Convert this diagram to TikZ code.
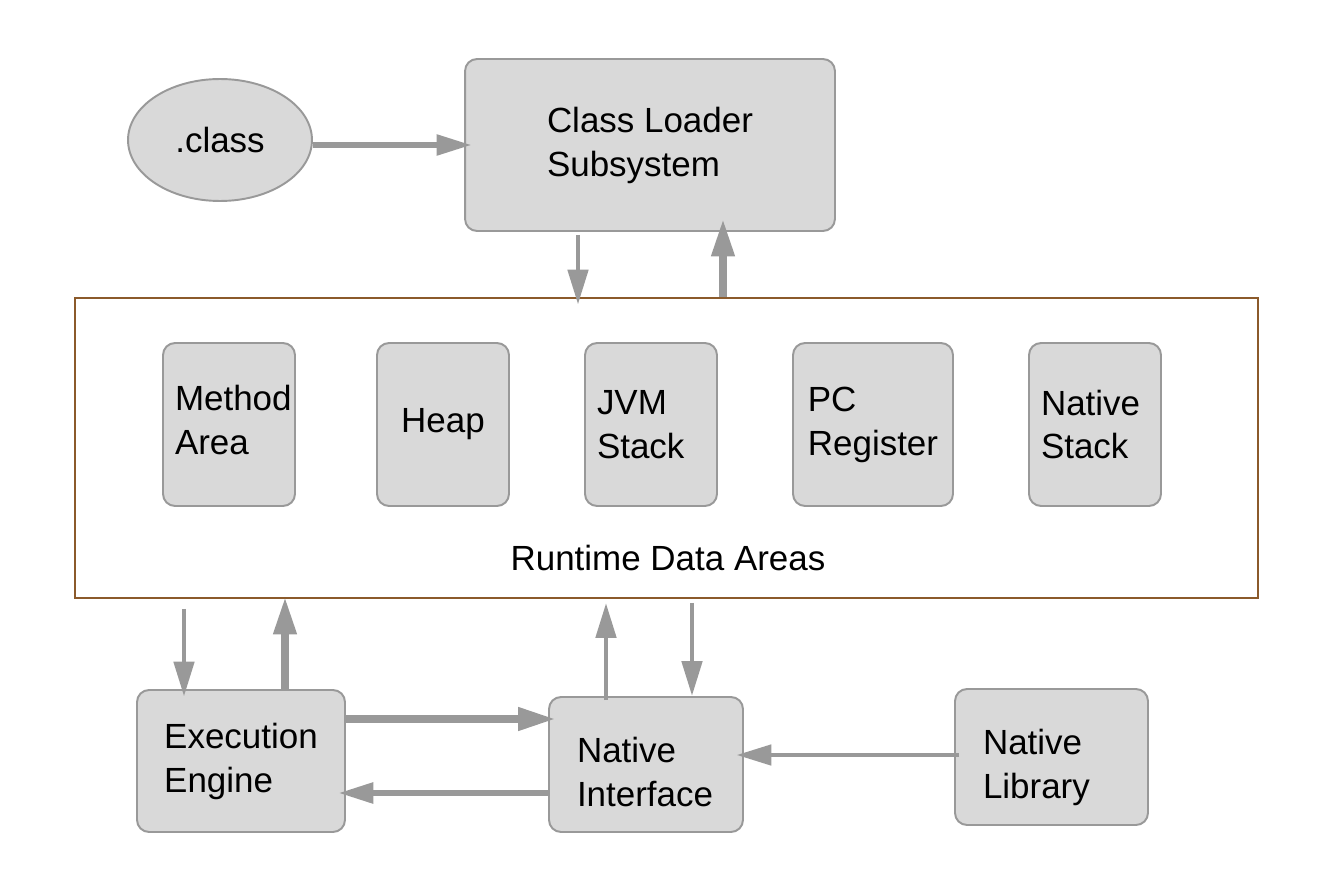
\documentclass[tikz,border=0pt]{standalone}
\usepackage{fontspec}
\setmainfont{Liberation Sans}
\usetikzlibrary{arrows.meta,shapes.geometric,positioning}

\definecolor{boxfill}{HTML}{D9D9D9}
\definecolor{boxline}{HTML}{999999}
\definecolor{arrgray}{HTML}{999999}
\definecolor{framebrown}{RGB}{139,90,43}

\tikzset{
  txt/.style={font=\fontsize{19.9}{25}\selectfont},
  block/.style={txt,draw=boxline,fill=boxfill,line width=1.1pt,rounded corners=0.24cm,align=left,inner sep=0pt},
  area/.style={block,minimum width=2.64cm,minimum height=3.26cm},
  flow/.style={draw=arrgray,line width=2.8pt,-{Triangle[length=0.7cm,width=0.4cm]},shorten >=-0.15cm},
  flowthick/.style={flow,line width=4.2pt,-{Triangle[length=0.75cm,width=0.44cm]}}
}

\begin{document}
\begin{tikzpicture}[x=0.02cm,y=-0.02cm]
	\useasboundingbox (0,0) rectangle (1326,882);
	% top row
	\node[block,ellipse,rounded corners=0pt,minimum width=3.68cm,minimum height=2.44cm] (cls) at (220,140) {.class};
	\node[block,minimum width=7.4cm,minimum height=3.44cm] (cl) at (650,145) {Class Loader\\Subsystem};
	% runtime data areas
	\node[draw=framebrown,line width=1.1pt,minimum width=23.66cm,minimum height=6cm,inner sep=0pt] (rt) at (666.5,448) {};
	\node[area,text width=2.16cm,text height=0.6cm,text depth=1.16cm] (method) at (229,424.5) {Method\\Area};
	\node[area] (heap) at (443,424.5) {Heap};
	\node[area,text width=2.16cm] (jvm) at (651,424.5) {JVM\\Stack};
	\node[area,minimum width=3.2cm] (pc) at (873,424.5) {PC\\Register};
	\node[area,text width=2.16cm] (nstack) at (1095,424.5) {Native\\Stack};
	\node[txt] (rtname) at (668,558) {Runtime Data Areas};
	% bottom row
	\node[block,minimum width=4.16cm,minimum height=2.84cm] (ee) at (241,761) {Execution\\Engine};
	\node[block,minimum width=3.88cm,minimum height=2.7cm,text width=2.76cm,text height=0.6cm,text depth=0.68cm] (ni) at (646,764.5) {Native\\Interface};
	\node[block,minimum width=3.86cm,minimum height=2.72cm,text width=2.74cm,text height=0.6cm,text depth=0.7cm] (nl) at (1051.5,757) {Native\\Library};
	% connectors
	\draw[flow,line width=3.2pt] (cls.east |- cl.west) -- (cl.west);
	\draw[flow,shorten <=0.06cm] (cl.south -| 578,0) -- (rt.north -| 578,0);
	\draw[flowthick,shorten >=-0.26cm] (rt.north -| 723,0) -- (cl.south -| 723,0);
	\draw[flow,shorten <=0.2cm] (rt.south -| 184,0) -- (ee.north -| 184,0);
	\draw[flowthick,shorten >=-0.04cm] (ee.north -| 285,0) -- (rt.south -| 285,0);
	\draw[flow,shorten <=-0.08cm,shorten >=0.08cm] (ni.north -| 606,0) -- (rt.south -| 606,0);
	\draw[flow,shorten <=0.08cm,shorten >=0cm] (rt.south -| 692,0) -- (ni.north -| 692,0);
	\draw[flowthick] (ee.east |- 0,719) -- (ni.west |- 0,719);
	\draw[flow,line width=3.4pt] (ni.west |- 0,793) -- (ee.east |- 0,793);
	\draw[flow,shorten <=-0.1cm] (nl.west |- 0,755) -- (ni.east |- 0,755);
\end{tikzpicture}
\end{document}
